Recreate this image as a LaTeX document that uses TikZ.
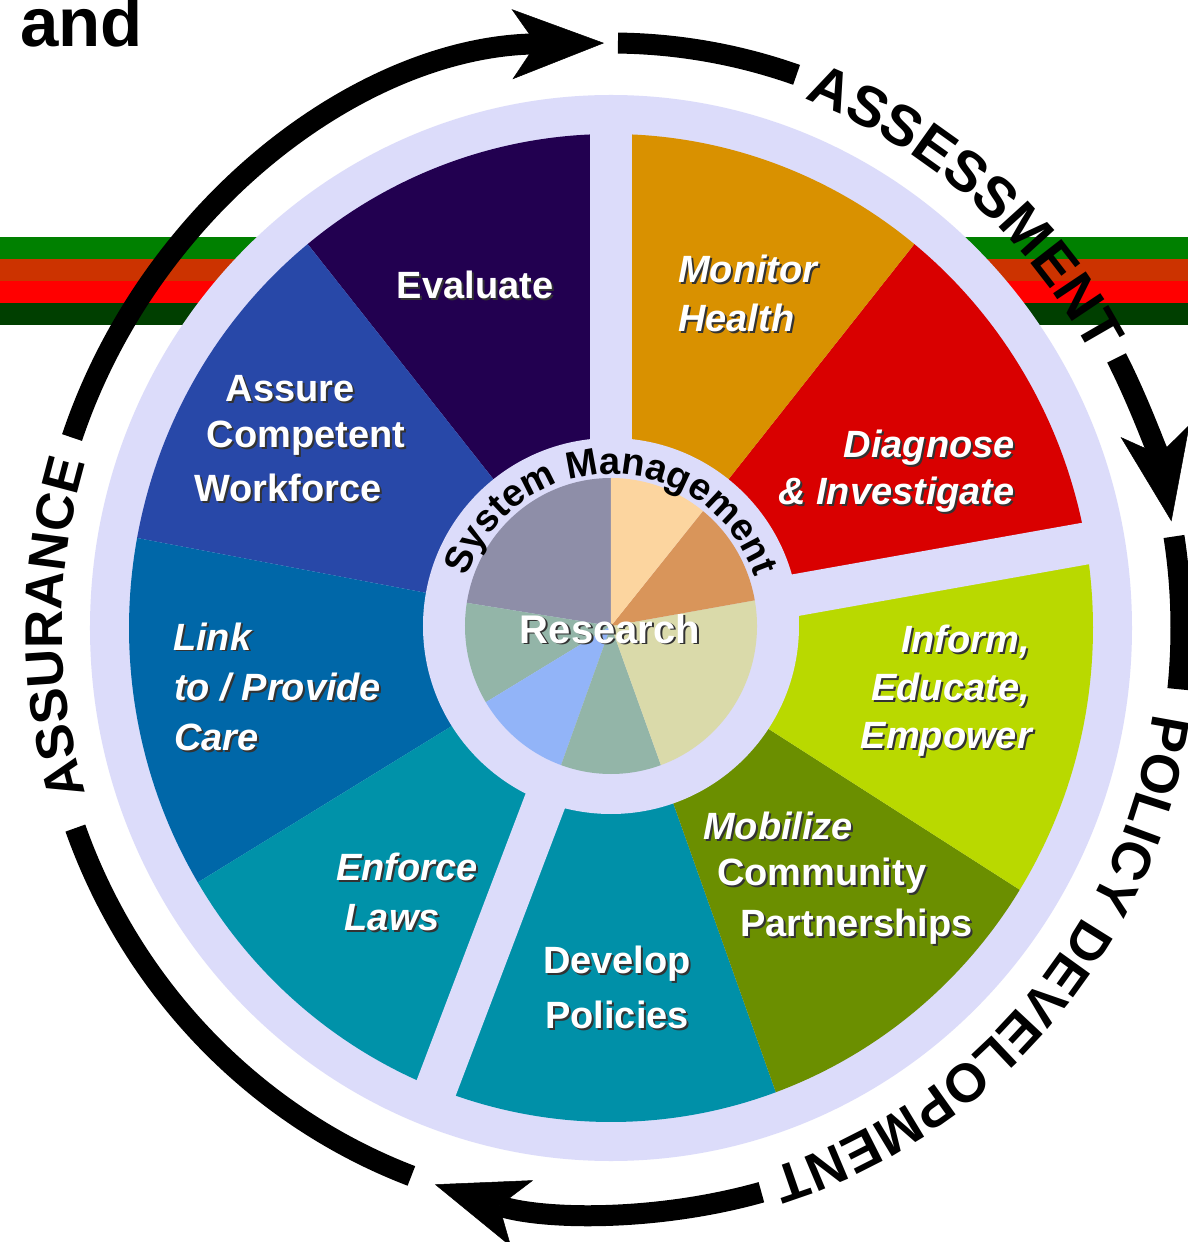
\documentclass[tikz,border=0pt]{standalone}
\usepackage{fontspec}
\setmainfont{Liberation Sans}
\usetikzlibrary{arrows.meta,decorations.text}

\definecolor{lav}{HTML}{DCDCFA}
\definecolor{cEval}{HTML}{220050}
\definecolor{cAssure}{HTML}{2848A8}
\definecolor{cLink}{HTML}{0067A8}
\definecolor{cEnforce}{HTML}{0092A9}
\definecolor{cDevelop}{HTML}{0090A8}
\definecolor{cMobil}{HTML}{6B8F00}
\definecolor{cInform}{HTML}{B9D900}
\definecolor{cDiag}{HTML}{D90000}
\definecolor{cMonitor}{HTML}{D99100}
\definecolor{pGray}{HTML}{8E8EA8}
\definecolor{pSage}{HTML}{93B5A8}
\definecolor{pBlue}{HTML}{92B4F8}
\definecolor{pKhaki}{HTML}{DADAAA}
\definecolor{pTan}{HTML}{D9955A}
\definecolor{pPeach}{HTML}{FCD59F}
\definecolor{sGreen}{HTML}{008000}
\definecolor{sOrange}{HTML}{CC3300}
\definecolor{sRed}{HTML}{FF0000}
\definecolor{sDark}{HTML}{003F00}

\newcommand\wseg[3]{\fill[#3] (0,0) -- (#1:482 and 494) arc[start angle=#1, end angle=#2, x radius=482, y radius=494] -- cycle;}
\newcommand\pslice[3]{\fill[#3] (0,2) -- ++(#1:146 and 148) arc[start angle=#1, end angle=#2, x radius=146, y radius=148] -- cycle;}
\newcommand\lblup{\fontsize{38}{46}\selectfont\bfseries}
\newcommand\lblit{\fontsize{38}{46}\selectfont\bfseries\itshape}
\newcommand\resfont{\fontsize{40}{46}\selectfont\bfseries}
\newcommand\smfont{\fontsize{38}{40}\selectfont\bfseries}
\newcommand\assfont{\fontsize{57}{60}\selectfont\bfseries}
\newcommand\polfont{\fontsize{54}{60}\selectfont\bfseries}
\newcommand\asufont{\fontsize{53}{60}\selectfont\bfseries}
\newcommand\andfont{\fontsize{69}{72}\selectfont\bfseries}
\newcommand\shd[1]{\makebox[0pt][l]{\hspace{2pt}\raisebox{-2pt}{\color{black!80}#1}}#1}
\newcommand\seglbl[5]{\node[lbl,anchor=#4] (#1) at (#2,#3) {#5};}

\begin{document}
\begin{tikzpicture}[x=1pt,y=1pt,
  lbl/.style={text=white, inner sep=0pt},
  arcline/.style={line width=21pt, black, line cap=butt},
  bigtip/.tip={Stealth[length=92pt,width=70pt,inset=24pt,line width=0.5pt]},
  gapline/.style={lav, line width=42pt, line cap=butt}]
\useasboundingbox (-611,-614) rectangle (577,628);
\fill[white] (-611,-614) rectangle (577,628);

% stripes
\fill[sGreen]  (-611,369) rectangle (577,391);
\fill[sOrange] (-611,347) rectangle (577,369);
\fill[sRed]    (-611,325) rectangle (577,347);
\fill[sDark]   (-611,303) rectangle (577,325);

% outer lavender disk
\fill[lav] (0,0) ellipse[x radius=521, y radius=533];

% coloured segments
\wseg{90}{129}{cEval}
\wseg{129}{169.5}{cAssure}
\wseg{169.5}{211}{cLink}
\wseg{211}{249}{cEnforce}
\wseg{249}{290}{cDevelop}
\wseg{290}{328}{cMobil}
\wseg{328}{370}{cInform}
\wseg{10}{51}{cDiag}
\wseg{51}{90}{cMonitor}

% gaps between the three groups
\draw[gapline] (0,0) -- (90:500 and 505);
\draw[gapline] (0,0) -- (10:500 and 505);
\draw[gapline] (0,0) -- (249:500 and 505);

% inner ring and pie
\fill[lav] (0,2) circle[radius=188];
\pslice{90}{171}{pGray}
\pslice{171}{211}{pSage}
\pslice{211}{250}{pBlue}
\pslice{250}{290}{pSage}
\pslice{290}{370}{pKhaki}
\pslice{10}{51}{pTan}
\pslice{51}{90}{pPeach}

% System Management
\path[shift={(0,2)}, decorate, decoration={text along path, text align=center,
  text={|\smfont|System Management}}] (170:152) arc[start angle=170, end angle=10, radius=152];

% segment labels
\seglbl{evaluate}{-136}{329}{base}{\lblup\shd{Evaluate}}
\seglbl{monitorA}{67}{345}{base west}{\lblit\shd{Monitor}}
\seglbl{monitorB}{67}{296}{base west}{\lblit\shd{Health}}
\seglbl{diagA}{404}{170}{base east}{\lblit\shd{Diagnose}}
\seglbl{diagB}{404}{123}{base east}{\lblit\shd{\& Investigate}}
\seglbl{informA}{419}{-24}{base east}{\lblit\shd{Inform,}}
\seglbl{informB}{419}{-72}{base east}{\lblit\shd{Educate,}}
\seglbl{informC}{421}{-120}{base east}{\lblit\shd{Empower}}
\seglbl{mobA}{92}{-211}{base west}{\lblit\shd{Mobilize}}
\seglbl{mobB}{106}{-257}{base west}{\lblup\shd{Community}}
\seglbl{mobC}{129}{-308}{base west}{\lblup\shd{Partnerships}}
\seglbl{devA}{6}{-345}{base}{\lblup\shd{Develop}}
\seglbl{devB}{6}{-400}{base}{\lblup\shd{Policies}}
\seglbl{enfA}{-133}{-252}{base east}{\lblit\shd{Enforce}}
\seglbl{enfB}{-171}{-302}{base east}{\lblit\shd{Laws}}
\seglbl{linkA}{-438}{-22}{base west}{\lblit\shd{Link}}
\seglbl{linkB}{-437}{-72}{base west}{\lblit\shd{to / Provide}}
\seglbl{linkC}{-437}{-122}{base west}{\lblit\shd{Care}}
\seglbl{assureA}{-321}{226}{base}{\lblup\shd{Assure}}
\seglbl{assureB}{-305}{180}{base}{\lblup\shd{Competent}}
\seglbl{assureC}{-323}{126}{base}{\lblup\shd{Workforce}}
\seglbl{research}{-1}{-15}{base}{\resfont\shd{Research}}

% outer cycle arrows
\draw[arcline,-{bigtip}] (161:570 and 585) arc[start angle=161, end angle=90.7, x radius=570, y radius=585];
\draw[arcline] (89.3:570 and 585) arc[start angle=89.3, end angle=71, x radius=570, y radius=585];
\draw[arcline,-{bigtip}] (27.5:570 and 585) arc[start angle=27.5, end angle=10.5, x radius=570, y radius=585];
\draw[arcline] (9:570 and 585) arc[start angle=9, end angle=-6, x radius=570, y radius=585];
\draw[arcline,-{bigtip}] (-74.7:570 and 585) arc[start angle=-74.7, end angle=-108, x radius=570, y radius=585];
\draw[arcline] (-110.5:570 and 585) arc[start angle=-110.5, end angle=-160, x radius=570, y radius=585];

% outer curved labels
\path[decorate, decoration={text along path, text align=center,
  text={|\assfont|ASSESSMENT}}] (74.2:549 and 565) arc[start angle=74.2, end angle=24.2, x radius=549, y radius=565];
\path[decorate, decoration={text along path, text align=center,
  text={|\polfont|POLICY DEVELOPMENT}}] (-1:549 and 565) arc[start angle=-1, end angle=-81, x radius=549, y radius=565];
\path[decorate, decoration={text along path, text align=center,
  text={|\asufont|ASSURANCE}}] (202:549 and 565) arc[start angle=202, end angle=158, x radius=549, y radius=565];

% top-left word
\node[anchor=base west, inner sep=0pt, font=\andfont] (andtxt) at (-591,581) {and};
\end{tikzpicture}
\end{document}
